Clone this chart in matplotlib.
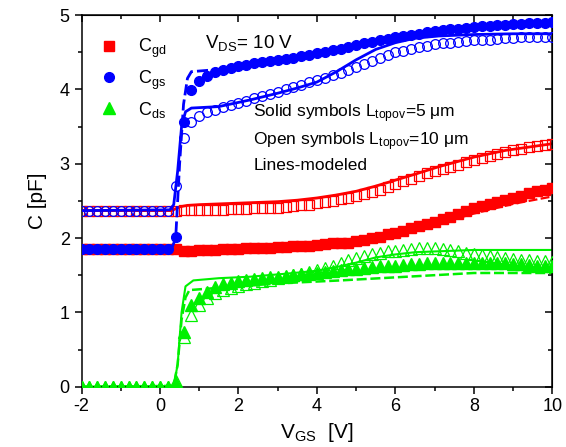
import numpy as np
import matplotlib
matplotlib.use("Agg")
import matplotlib.pyplot as plt
from matplotlib.ticker import MultipleLocator

plt.rcParams['font.family'] = ['Liberation Sans', 'DejaVu Sans']
plt.rcParams['mathtext.fontset'] = 'custom'
plt.rcParams['mathtext.rm'] = 'Liberation Sans'
plt.rcParams['mathtext.default'] = 'regular'
plt.rcParams['axes.unicode_minus'] = False

# measured points, V_GS from -2 to 10 in 0.2 V steps
vgs = np.round(np.arange(-2, 10.001, 0.2), 1)

# solid symbols, Ltopov = 5 um
cgd_5 = [1.85] * 13 + [
    1.83, 1.83, 1.84, 1.84, 1.84, 1.85, 1.85, 1.85, 1.86, 1.86,
    1.87, 1.87, 1.88, 1.88, 1.89, 1.90, 1.90, 1.91, 1.92, 1.93,
    1.93, 1.94, 1.96, 1.98, 2.00, 2.02, 2.05, 2.07, 2.10, 2.13,
    2.16, 2.19, 2.22, 2.25, 2.29, 2.32, 2.36, 2.40, 2.43, 2.46,
    2.49, 2.51, 2.54, 2.57, 2.60, 2.63, 2.65, 2.68]
cgs_5 = [1.85] * 12 + [
    2.01, 3.56, 3.99, 4.12, 4.18, 4.23, 4.26, 4.29, 4.31,
    4.33, 4.35, 4.37, 4.38, 4.40, 4.41, 4.43, 4.45, 4.47, 4.49,
    4.51, 4.53, 4.55, 4.57, 4.60, 4.62, 4.64, 4.66, 4.68, 4.70,
    4.72, 4.73, 4.75, 4.77, 4.79, 4.80, 4.81, 4.82, 4.83, 4.84,
    4.85, 4.86, 4.87, 4.87, 4.88, 4.88, 4.89, 4.89, 4.90, 4.91]
cds_5 = [0.0] * 12 + [
    0.05, 0.74, 1.10, 1.19, 1.28, 1.34, 1.38, 1.40, 1.42,
    1.43, 1.45, 1.46, 1.47, 1.48, 1.49, 1.50, 1.51, 1.52, 1.53,
    1.55, 1.56, 1.57, 1.58, 1.59, 1.60, 1.61, 1.62, 1.63, 1.63,
    1.64, 1.65, 1.65, 1.66, 1.66, 1.66, 1.67, 1.67, 1.67, 1.67,
    1.67, 1.67, 1.66, 1.66, 1.65, 1.65, 1.64, 1.63, 1.63, 1.62]

# open symbols, Ltopov = 10 um
cgd_10 = [2.37] * 13 + [
    2.38, 2.38, 2.38, 2.38, 2.38, 2.38, 2.39, 2.39, 2.39, 2.40,
    2.40, 2.41, 2.41, 2.42, 2.43, 2.44, 2.45, 2.47, 2.48, 2.50,
    2.52, 2.54, 2.56, 2.59, 2.62, 2.65, 2.69, 2.73, 2.77, 2.80,
    2.84, 2.87, 2.90, 2.93, 2.96, 2.99, 3.02, 3.05, 3.08, 3.10,
    3.13, 3.16, 3.18, 3.20, 3.22, 3.24, 3.25, 3.26]
cgs_10 = [2.37] * 12 + [
    2.70, 3.35, 3.56, 3.64, 3.70, 3.73, 3.76, 3.79, 3.82,
    3.85, 3.88, 3.91, 3.94, 3.97, 4.00, 4.03, 4.06, 4.10, 4.13,
    4.16, 4.19, 4.22, 4.26, 4.30, 4.34, 4.39, 4.43, 4.47, 4.50,
    4.52, 4.54, 4.57, 4.59, 4.61, 4.62, 4.63, 4.64, 4.65, 4.66,
    4.67, 4.67, 4.68, 4.69, 4.69, 4.70, 4.70, 4.70, 4.71, 4.71]
cds_10 = [0.0] * 12 + [
    0.07, 0.67, 0.96, 1.10, 1.19, 1.26, 1.30, 1.33, 1.36,
    1.38, 1.40, 1.42, 1.44, 1.46, 1.48, 1.50, 1.52, 1.54, 1.57,
    1.60, 1.63, 1.67, 1.70, 1.73, 1.76, 1.78, 1.80, 1.82, 1.83,
    1.84, 1.85, 1.86, 1.86, 1.86, 1.85, 1.84, 1.82, 1.80, 1.79,
    1.77, 1.76, 1.75, 1.73, 1.72, 1.71, 1.70, 1.69, 1.69, 1.68]

# modeled curves
m_cgd5_x = [-2, 0.4, 2, 3, 4, 5, 6, 7, 8, 9, 10]
m_cgd5_y = [1.85, 1.85, 1.86, 1.88, 1.90, 1.95, 2.05, 2.18, 2.33, 2.46, 2.56]
m_cgd10_x = [-2, 0.3, 0.5, 0.7, 1.0, 2.0, 3.0, 3.5, 4.0, 4.5, 5.0, 5.5, 6.0, 6.5, 7.1, 8.0, 8.8, 10]
m_cgd10_y = [2.37, 2.37, 2.42, 2.44, 2.45, 2.47, 2.49, 2.51, 2.54, 2.58, 2.63, 2.70, 2.78, 2.86, 2.96, 3.09, 3.18, 3.27]
m_cgs5_x = [-2, 0.3, 0.4, 0.5, 0.6, 0.7, 0.8, 1.5, 2, 4, 6, 8, 10]
m_cgs5_y = [1.85, 1.86, 2.0, 3.0, 3.8, 4.15, 4.24, 4.27, 4.30, 4.48, 4.68, 4.83, 4.90]
m_cgs10_x = [-2, 0.25, 0.35, 0.45, 0.55, 0.65, 0.8, 1.5, 2.3, 3.0, 3.5, 4.0, 4.5, 5.0, 5.5, 6.0, 6.5, 7.1, 8.0, 9.0, 10]
m_cgs10_y = [2.37, 2.38, 2.45, 2.9, 3.5, 3.7, 3.75, 3.77, 3.86, 3.95, 4.02, 4.10, 4.24, 4.40, 4.54, 4.63, 4.69, 4.72, 4.74, 4.75, 4.75]
m_cds5_x = [-2, 0.35, 0.45, 0.55, 0.65, 0.75, 1.5, 3, 4.6, 6.3, 8, 8.8, 10]
m_cds5_y = [0, 0.01, 0.3, 0.9, 1.2, 1.30, 1.33, 1.39, 1.43, 1.48, 1.53, 1.53, 1.53]
m_cds10_x = [-2, 0.35, 0.45, 0.55, 0.65, 0.85, 1.5, 2.3, 3.2, 4.0, 4.5, 5.0, 5.5, 6.0, 6.5, 7.0, 8.0, 9.0, 10]
m_cds10_y = [0, 0.01, 0.3, 1.0, 1.35, 1.43, 1.46, 1.48, 1.52, 1.56, 1.61, 1.67, 1.74, 1.78, 1.81, 1.82, 1.84, 1.84, 1.84]

RED = '#ff0000'
BLUE = '#0000ff'
GREEN = '#00f000'

fig = plt.figure(figsize=(5.66, 4.47), dpi=100)
ax = fig.add_axes([0.144, 0.135, 0.832, 0.831])

dash = (4, 1.5)

# red: C_gd
ax.plot(m_cgd10_x, m_cgd10_y, '-', color=RED, lw=2.0, zorder=2)
ax.plot(vgs, cgd_10, 's', ms=6.5, mfc='none', mec=RED, mew=0.9, zorder=3)
ax.plot(vgs, cgd_5, 's', ms=7.5, color=RED, mec=RED, zorder=3, label=r'C$_{gd}$')
ax.plot(m_cgd5_x, m_cgd5_y, '--', color=RED, lw=1.6, dashes=dash, zorder=2)

# green: C_ds
ax.plot(m_cds10_x, m_cds10_y, '-', color=GREEN, lw=1.5, zorder=2)
ax.plot(m_cds5_x, m_cds5_y, '--', color=GREEN, lw=1.8, dashes=dash, zorder=2)
ax.plot(vgs, cds_10, '^', ms=8, mfc='none', mec=GREEN, mew=0.9, zorder=3)
ax.plot(vgs, cds_5, '^', ms=8, color=GREEN, mec=GREEN, zorder=3, label=r'C$_{ds}$')

# blue: C_gs
ax.plot(m_cgs10_x, m_cgs10_y, '-', color=BLUE, lw=2.0, zorder=4)
ax.plot(m_cgs5_x, m_cgs5_y, '--', color=BLUE, lw=2.0, dashes=dash, zorder=4)
ax.plot(vgs, cgs_10, 'o', ms=7, mfc='none', mec=BLUE, mew=0.9, zorder=5)
ax.plot(vgs, cgs_5, 'o', ms=7, color=BLUE, mec=BLUE, zorder=5, label=r'C$_{gs}$')

ax.set_xlim(-2, 10)
ax.set_ylim(0, 5)
ax.xaxis.set_major_locator(MultipleLocator(2))
ax.xaxis.set_minor_locator(MultipleLocator(1))
ax.yaxis.set_major_locator(MultipleLocator(1))
ax.yaxis.set_minor_locator(MultipleLocator(0.5))
ax.tick_params(which='both', direction='out', width=1.1, labelsize=13)
ax.tick_params(which='major', length=5)
ax.tick_params(which='minor', length=3)
for s in ax.spines.values():
    s.set_linewidth(1.1)

# inward ticks on top and right
top = ax.secondary_xaxis('top')
top.xaxis.set_major_locator(MultipleLocator(2))
top.xaxis.set_minor_locator(MultipleLocator(1))
top.tick_params(which='both', direction='in', labeltop=False, width=1.1)
top.tick_params(which='major', length=5)
top.tick_params(which='minor', length=3)
right = ax.secondary_yaxis('right')
right.yaxis.set_major_locator(MultipleLocator(1))
right.yaxis.set_minor_locator(MultipleLocator(0.5))
right.tick_params(which='both', direction='in', labelright=False, width=1.1)
right.tick_params(which='major', length=5)
right.tick_params(which='minor', length=3)

ax.set_xlabel(r'V$_{GS}$  [V]', fontsize=15, labelpad=4)
ax.set_ylabel('C [pF]', fontsize=15, labelpad=9)

h, l = ax.get_legend_handles_labels()
order = [0, 2, 1]
ax.legend([h[i] for i in order], [l[i] for i in order], loc='upper left',
          bbox_to_anchor=(0.005, 0.985), frameon=False, fontsize=13,
          handlelength=1.0, handletextpad=1.1, labelspacing=0.45)

ax.text(0.262, 0.912, r'V$_{DS}$= 10 V', transform=ax.transAxes, fontsize=13.5)
ax.text(0.365, 0.725, r'Solid symbols L$_{topov}$=5 $\mu$m', transform=ax.transAxes, fontsize=12.5)
ax.text(0.365, 0.65, r'Open symbols L$_{topov}$=10 $\mu$m', transform=ax.transAxes, fontsize=12.5)
ax.text(0.365, 0.582, 'Lines-modeled', transform=ax.transAxes, fontsize=12.5)

fig.savefig('out.png', dpi=100)
